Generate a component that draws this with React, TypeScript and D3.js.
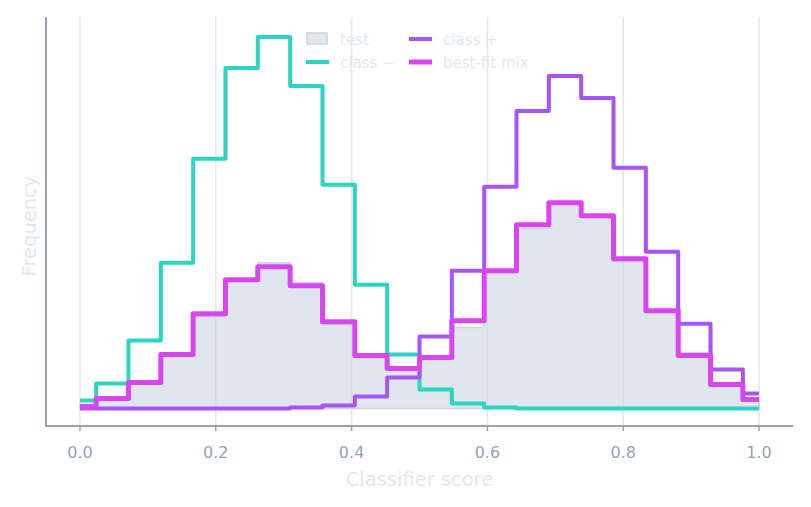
import React from "react";
import * as d3 from "d3";

const W = 811;
const H = 507;

// bin centres: 22 points from 0 to 1
const scores: number[] = d3.range(22).map((k) => k / 21);

const testHist: number[] = [0.03, 0.09, 0.25, 0.52, 0.92, 1.29, 1.46, 1.26, 0.84, 0.5, 0.39, 0.49, 0.81, 1.36, 1.8, 2.04, 1.91, 1.47, 0.96, 0.56, 0.23, 0.08];
const classNeg: number[] = [0.08, 0.25, 0.68, 1.46, 2.5, 3.41, 3.72, 3.23, 2.24, 1.24, 0.54, 0.19, 0.05, 0.01, 0, 0, 0, 0, 0, 0, 0, 0];
const classPos: number[] = [0, 0, 0, 0, 0, 0, 0, 0.01, 0.03, 0.12, 0.31, 0.72, 1.38, 2.22, 2.98, 3.33, 3.11, 2.41, 1.57, 0.85, 0.39, 0.15];
const bestFit: number[] = [0.02, 0.1, 0.26, 0.54, 0.95, 1.29, 1.42, 1.23, 0.87, 0.53, 0.4, 0.51, 0.88, 1.38, 1.84, 2.06, 1.93, 1.5, 0.98, 0.53, 0.24, 0.09];

const xTicks: number[] = [0, 0.2, 0.4, 0.6, 0.8, 1.0];

const FONT = "'DejaVu Sans', sans-serif";

export default function App() {
  const left = 46;
  const right = 793;
  const top = 17;
  const bottom = 426;

  const x = d3.scaleLinear().domain([-0.05, 1.05]).range([left, right]);
  const ymax = d3.max([...classNeg, ...classPos, ...bestFit, ...testHist]) as number;
  const y = d3.scaleLinear().domain([-0.05 * ymax, 1.05 * ymax]).range([bottom + 1.1, top + 1.4]);

  const line = (vals: number[]) =>
    d3
      .line<number>()
      .x((_, i) => x(scores[i]))
      .y((d) => y(d))
      .curve(d3.curveStep)(vals) as string;

  const area = d3
    .area<number>()
    .x((_, i) => x(scores[i]))
    .y0(y(0))
    .y1((d) => y(d))
    .curve(d3.curveStep)(testHist) as string;

  const series = [
    { vals: classNeg, color: "#2dd4bf", w: 4 },
    { vals: classPos, color: "#a855f7", w: 4 },
    { vals: bestFit, color: "#d946ef", w: 5 },
  ];

  const legend = [
    { label: "test", type: "patch", color: "#cbd5e1", lx: 307, ly: 39 },
    { label: "class \u2212", type: "line", color: "#2dd4bf", w: 4, lx: 307, ly: 62 },
    { label: "class +", type: "line", color: "#a855f7", w: 4, lx: 410, ly: 39 },
    { label: "best-fit mix", type: "line", color: "#d946ef", w: 5, lx: 410, ly: 62 },
  ];

  return (
    <svg width={W} height={H} style={{ position: "absolute", left: 0, top: 0, background: "#fff" }} fontFamily={FONT}>
      {/* grid */}
      {xTicks.map((t) => (
        <line key={"g" + t} x1={x(t)} x2={x(t)} y1={top} y2={bottom} stroke="#e5e7eb" strokeWidth={1.5} />
      ))}
      {/* test histogram */}
      <path d={area} fill="#cbd5e1" fillOpacity={0.6} stroke="#cbd5e1" strokeWidth={1.5} strokeLinejoin="round" />
      {series.map((s, i) => (
        <path key={i} d={line(s.vals)} fill="none" stroke={s.color} strokeWidth={s.w} strokeLinejoin="round" strokeLinecap="butt" />
      ))}
      {/* spines */}
      <line x1={left} x2={left} y1={top} y2={bottom + 1} stroke="#94a3b8" strokeWidth={2} />
      <line x1={left - 1} x2={right} y1={bottom} y2={bottom} stroke="#94a3b8" strokeWidth={2} />
      {/* ticks */}
      {xTicks.map((t) => (
        <g key={"t" + t}>
          <line x1={x(t)} x2={x(t)} y1={bottom} y2={bottom + 5} stroke="#94a3b8" strokeWidth={1.5} />
          <text x={x(t)} y={bottom + 32} textAnchor="middle" fontSize={16} fill="#94a3b8">
            {t.toFixed(1)}
          </text>
        </g>
      ))}
      {/* axis labels */}
      <text x={(left + right) / 2} y={486} textAnchor="middle" fontSize={19.5} fill="#e2e8f0">
        Classifier score
      </text>
      <text transform={`translate(36, 226) rotate(-90)`} textAnchor="middle" fontSize={19.5} fill="#e2e8f0">
        Frequency
      </text>
      {/* legend */}
      {legend.map((l) => (
        <g key={l.label}>
          {l.type === "patch" ? (
            <rect x={l.lx} y={l.ly - 6} width={20} height={11} fill="#cbd5e1" fillOpacity={0.6} stroke="#cbd5e1" strokeWidth={1.5} />
          ) : (
            <line x1={l.lx - 1} x2={l.lx + 22} y1={l.ly} y2={l.ly} stroke={l.color} strokeWidth={l.w} />
          )}
          <text x={l.lx + 33} y={l.ly + 5.5} fontSize={15} fill="#e2e8f0">
            {l.label}
          </text>
        </g>
      ))}
    </svg>
  );
}
